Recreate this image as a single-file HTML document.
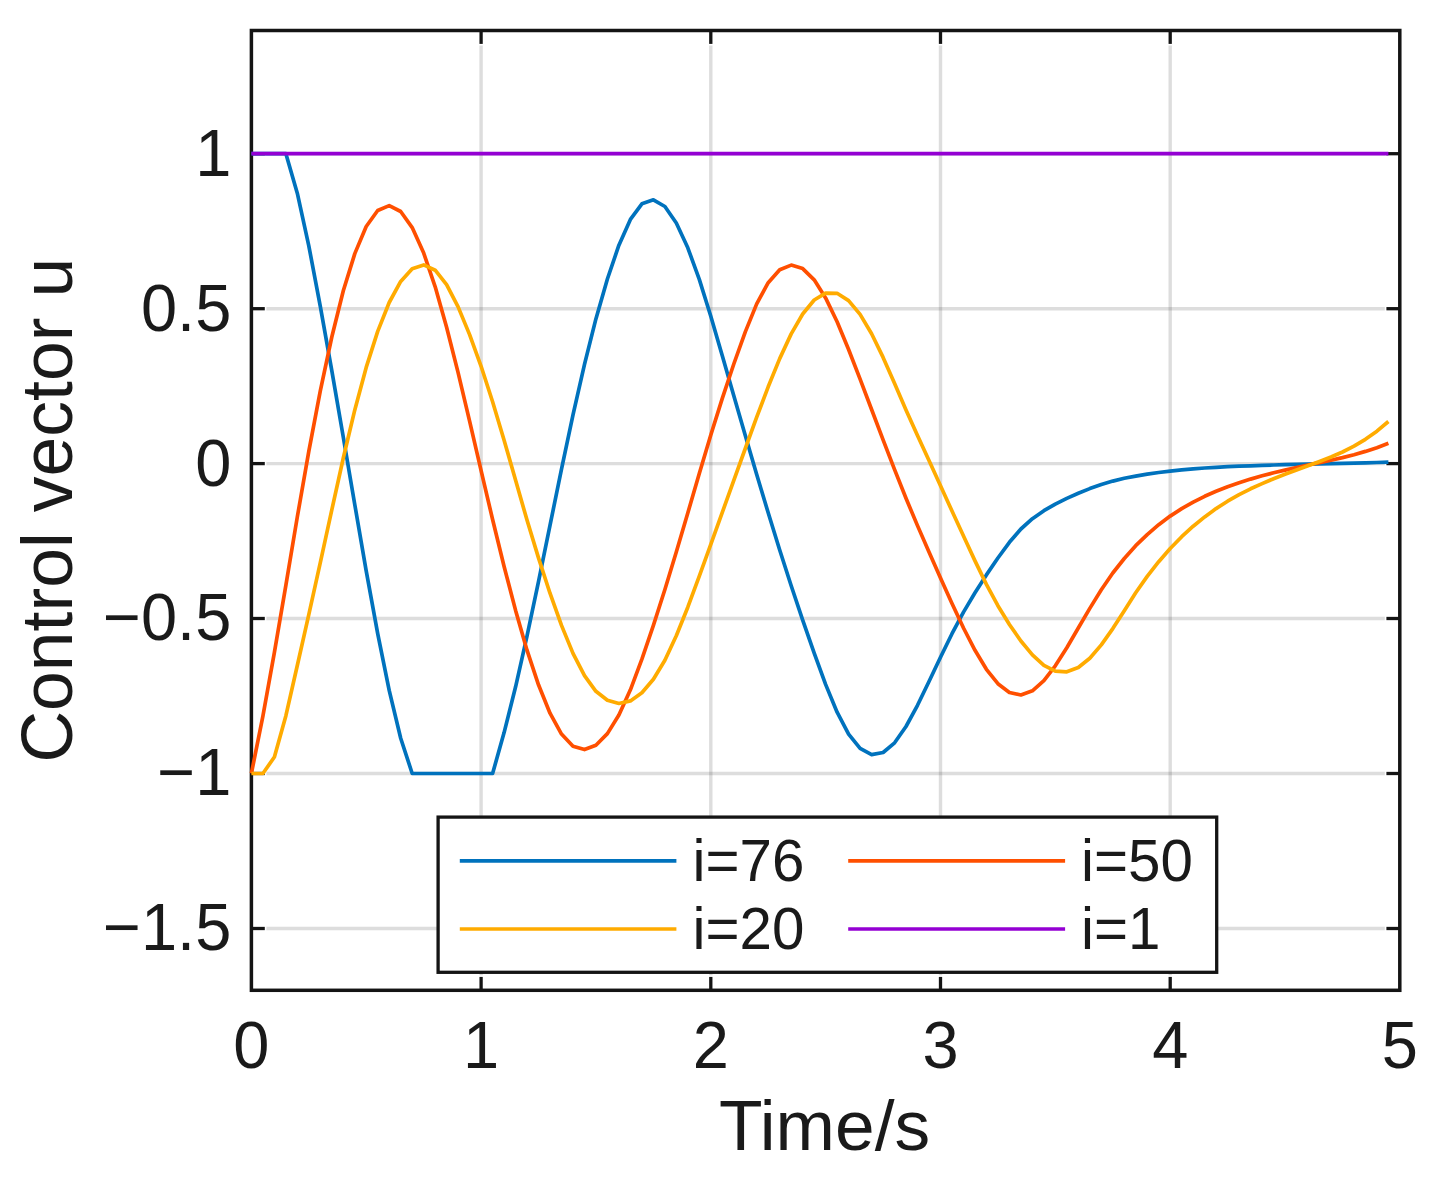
<!DOCTYPE html>
<html lang="en"><head><meta charset="utf-8"><title>Control vector u</title>
<style>
html,body{margin:0;padding:0;background:#fff;}
body{width:1448px;height:1179px;overflow:hidden;}
svg{display:block;}
text{font-family:"Liberation Sans",Arial,Helvetica,sans-serif;fill:#1a1a1a;}
</style></head><body>
<svg width="1448" height="1179" viewBox="0 0 1448 1179">
<rect x="0" y="0" width="1448" height="1179" fill="#ffffff"/>
<g stroke="#262626" stroke-opacity="0.155" stroke-width="3.4" fill="none">
<line x1="481.1" y1="45.5" x2="481.1" y2="975.3"/>
<line x1="710.8" y1="45.5" x2="710.8" y2="975.3"/>
<line x1="940.5" y1="45.5" x2="940.5" y2="975.3"/>
<line x1="1170.2" y1="45.5" x2="1170.2" y2="975.3"/>
<line x1="266.4" y1="153.7" x2="1384.8" y2="153.7"/>
<line x1="266.4" y1="308.7" x2="1384.8" y2="308.7"/>
<line x1="266.4" y1="463.6" x2="1384.8" y2="463.6"/>
<line x1="266.4" y1="618.5" x2="1384.8" y2="618.5"/>
<line x1="266.4" y1="773.5" x2="1384.8" y2="773.5"/>
<line x1="266.4" y1="928.5" x2="1384.8" y2="928.5"/>
</g>
<g stroke="#141414" stroke-width="3.3" fill="none">
<line x1="481.1" y1="990.3" x2="481.1" y2="976.9"/>
<line x1="481.1" y1="30.5" x2="481.1" y2="43.9"/>
<line x1="710.8" y1="990.3" x2="710.8" y2="976.9"/>
<line x1="710.8" y1="30.5" x2="710.8" y2="43.9"/>
<line x1="940.5" y1="990.3" x2="940.5" y2="976.9"/>
<line x1="940.5" y1="30.5" x2="940.5" y2="43.9"/>
<line x1="1170.2" y1="990.3" x2="1170.2" y2="976.9"/>
<line x1="1170.2" y1="30.5" x2="1170.2" y2="43.9"/>
<line x1="251.4" y1="153.7" x2="264.8" y2="153.7"/>
<line x1="1399.8" y1="153.7" x2="1386.4" y2="153.7"/>
<line x1="251.4" y1="308.7" x2="264.8" y2="308.7"/>
<line x1="1399.8" y1="308.7" x2="1386.4" y2="308.7"/>
<line x1="251.4" y1="463.6" x2="264.8" y2="463.6"/>
<line x1="1399.8" y1="463.6" x2="1386.4" y2="463.6"/>
<line x1="251.4" y1="618.5" x2="264.8" y2="618.5"/>
<line x1="1399.8" y1="618.5" x2="1386.4" y2="618.5"/>
<line x1="251.4" y1="773.5" x2="264.8" y2="773.5"/>
<line x1="1399.8" y1="773.5" x2="1386.4" y2="773.5"/>
<line x1="251.4" y1="928.5" x2="264.8" y2="928.5"/>
<line x1="1399.8" y1="928.5" x2="1386.4" y2="928.5"/>
</g>
<rect x="251.4" y="30.5" width="1148.4" height="959.8" fill="none" stroke="#141414" stroke-width="3.5"/>
<g fill="none" stroke-width="3.7" stroke-linejoin="round" stroke-linecap="butt">
<polyline stroke="#0072BD" points="251.4,153.7 262.9,153.7 274.4,153.7 285.9,153.7 297.3,193.2 308.8,245.8 320.3,306.3 331.8,370.7 343.3,437.3 354.8,504.7 366.2,570.9 377.7,633.6 389.2,690.4 400.7,738.2 412.2,773.5 423.7,773.5 435.2,773.5 446.6,773.5 458.1,773.5 469.6,773.5 481.1,773.5 492.6,773.5 504.1,732.6 515.6,686.8 527.0,636.1 538.5,581.7 550.0,525.4 561.5,469.2 573.0,414.9 584.5,364.4 595.9,318.9 607.4,279.0 618.9,245.2 630.4,219.4 641.9,203.8 653.4,199.8 664.9,206.5 676.3,223.0 687.8,247.8 699.3,279.4 710.8,316.2 722.3,355.7 733.8,395.8 745.3,435.5 756.7,474.5 768.2,512.8 779.7,550.0 791.2,585.8 802.7,620.1 814.2,653.1 825.6,684.4 837.1,712.2 848.6,734.1 860.1,748.4 871.6,754.6 883.1,752.5 894.6,742.8 906.0,726.5 917.5,705.3 929.0,681.5 940.5,657.2 952.0,633.7 963.5,612.1 975.0,592.8 986.4,574.9 997.9,558.0 1009.4,542.3 1020.9,529.0 1032.4,518.7 1043.9,510.7 1055.3,504.1 1066.8,498.4 1078.3,493.3 1089.8,488.6 1101.3,484.5 1112.8,481.1 1124.3,478.3 1135.7,476.1 1147.2,474.1 1158.7,472.5 1170.2,471.1 1181.7,469.9 1193.2,468.9 1204.7,468.0 1216.1,467.3 1227.6,466.7 1239.1,466.2 1250.6,465.8 1262.1,465.4 1273.6,465.0 1285.0,464.7 1296.5,464.4 1308.0,464.2 1319.5,463.9 1331.0,463.6 1342.5,463.4 1354.0,463.1 1365.4,462.8 1376.9,462.5 1388.4,462.2"/>
<polyline stroke="#FF4F00" points="251.4,773.4 262.9,716.1 274.4,652.4 285.9,585.1 297.3,517.0 308.8,451.4 320.3,390.9 331.8,337.0 343.3,290.8 354.8,253.6 366.2,226.5 377.7,210.5 389.2,205.6 400.7,211.5 412.2,227.6 423.7,253.1 435.2,286.8 446.6,327.3 458.1,372.6 469.6,421.1 481.1,470.6 492.6,519.5 504.1,566.5 515.6,610.4 527.0,650.2 538.5,684.8 550.0,713.2 561.5,734.1 573.0,746.2 584.5,749.6 595.9,745.2 607.4,733.6 618.9,715.0 630.4,689.8 641.9,659.2 653.4,625.4 664.9,589.5 676.3,552.0 687.8,513.0 699.3,473.5 710.8,435.0 722.3,398.4 733.8,364.0 745.3,331.9 756.7,303.9 768.2,282.7 779.7,269.7 791.2,265.1 802.7,268.6 814.2,279.8 825.6,297.9 837.1,321.8 848.6,349.5 860.1,379.1 871.6,409.5 883.1,439.9 894.6,469.6 906.0,498.3 917.5,525.6 929.0,551.9 940.5,577.9 952.0,603.5 963.5,628.0 975.0,650.3 986.4,669.3 997.9,683.7 1009.4,692.5 1020.9,695.0 1032.4,690.8 1043.9,680.7 1055.3,665.8 1066.8,647.7 1078.3,628.0 1089.8,608.4 1101.3,589.8 1112.8,573.0 1124.3,558.5 1135.7,545.7 1147.2,534.6 1158.7,524.7 1170.2,516.1 1181.7,508.6 1193.2,502.1 1204.7,496.3 1216.1,491.3 1227.6,486.7 1239.1,482.7 1250.6,479.1 1262.1,475.8 1273.6,472.8 1285.0,470.1 1296.5,467.5 1308.0,465.0 1319.5,462.6 1331.0,460.2 1342.5,457.6 1354.0,454.7 1365.4,451.4 1376.9,447.7 1388.4,443.3"/>
<polyline stroke="#FFAB00" points="251.4,773.5 262.9,773.5 274.4,757.0 285.9,715.7 297.3,665.5 308.8,614.6 320.3,562.7 331.8,509.9 343.3,458.0 354.8,409.9 366.2,367.4 377.7,331.4 389.2,302.5 400.7,281.4 412.2,268.7 423.7,264.9 435.2,270.2 446.6,284.7 458.1,306.9 469.6,334.6 481.1,366.3 492.6,401.7 504.1,440.2 515.6,480.3 527.0,520.1 538.5,557.9 550.0,593.2 561.5,625.4 573.0,653.4 584.5,675.7 595.9,691.3 607.4,700.3 618.9,703.5 630.4,700.9 641.9,692.7 653.4,679.2 664.9,660.2 676.3,635.8 687.8,607.2 699.3,576.1 710.8,544.4 722.3,512.4 733.8,480.3 745.3,448.5 756.7,417.2 768.2,386.8 779.7,358.6 791.2,333.9 802.7,314.0 814.2,300.0 825.6,293.1 837.1,293.3 848.6,300.6 860.1,314.4 871.6,333.8 883.1,357.4 894.6,383.5 906.0,410.0 917.5,435.6 929.0,460.6 940.5,485.8 952.0,511.0 963.5,536.1 975.0,560.9 986.4,584.4 997.9,605.7 1009.4,624.5 1020.9,641.0 1032.4,654.9 1043.9,665.3 1055.3,671.1 1066.8,671.8 1078.3,667.5 1089.8,658.2 1101.3,644.9 1112.8,628.6 1124.3,610.7 1135.7,592.8 1147.2,576.4 1158.7,561.7 1170.2,548.5 1181.7,536.7 1193.2,526.2 1204.7,516.9 1216.1,508.6 1227.6,501.2 1239.1,494.7 1250.6,488.8 1262.1,483.6 1273.6,478.7 1285.0,474.2 1296.5,470.0 1308.0,465.8 1319.5,461.5 1331.0,457.0 1342.5,452.0 1354.0,446.2 1365.4,439.3 1376.9,431.2 1388.4,421.5"/>
<line stroke="#9400D3" x1="251.4" y1="153.7" x2="1388.4" y2="153.7"/>
</g>
<g font-size="65.0">
<text transform="translate(251.4,1068.4) scale(1,1.025)" text-anchor="middle">0</text>
<text transform="translate(481.1,1068.4) scale(1,1.025)" text-anchor="middle">1</text>
<text transform="translate(710.8,1068.4) scale(1,1.025)" text-anchor="middle">2</text>
<text transform="translate(940.5,1068.4) scale(1,1.025)" text-anchor="middle">3</text>
<text transform="translate(1170.2,1068.4) scale(1,1.025)" text-anchor="middle">4</text>
<text transform="translate(1399.9,1068.4) scale(1,1.025)" text-anchor="middle">5</text>
<text transform="translate(231.3,175.6) scale(1,1.025)" text-anchor="end">1</text>
<text transform="translate(231.3,330.6) scale(1,1.025)" text-anchor="end">0.5</text>
<text transform="translate(231.3,485.5) scale(1,1.025)" text-anchor="end">0</text>
<text transform="translate(231.3,640.4) scale(1,1.025)" text-anchor="end">−0.5</text>
<text transform="translate(231.3,795.4) scale(1,1.025)" text-anchor="end">−1</text>
<text transform="translate(231.3,950.4) scale(1,1.025)" text-anchor="end">−1.5</text>
</g>
<text transform="translate(824.5,1149.6) scale(1,1.000)" font-size="71.3" text-anchor="middle">Time/s</text>
<text transform="translate(72.0,510.2) rotate(-90) scale(1,1.000)" font-size="71.5" text-anchor="middle">Control vector u</text>
<rect x="438.1" y="817.1" width="778.6" height="155.2" fill="#ffffff" stroke="#141414" stroke-width="3.3"/>
<g stroke-width="3.7" fill="none">
<line stroke="#0072BD" x1="459.8" y1="860.8" x2="676.4" y2="860.8"/>
<line stroke="#FFAB00" x1="459.8" y1="929.0" x2="676.4" y2="929.0"/>
<line stroke="#FF4F00" x1="848.2" y1="860.8" x2="1065.1" y2="860.8"/>
<line stroke="#9400D3" x1="848.2" y1="929.0" x2="1065.1" y2="929.0"/>
</g>
<g font-size="58.3">
<text x="692.5" y="881.0">i=76</text>
<text x="692.5" y="948.7">i=20</text>
<text x="1081.0" y="881.0">i=50</text>
<text x="1081.0" y="948.7">i=1</text>
</g>
</svg>
</body></html>
